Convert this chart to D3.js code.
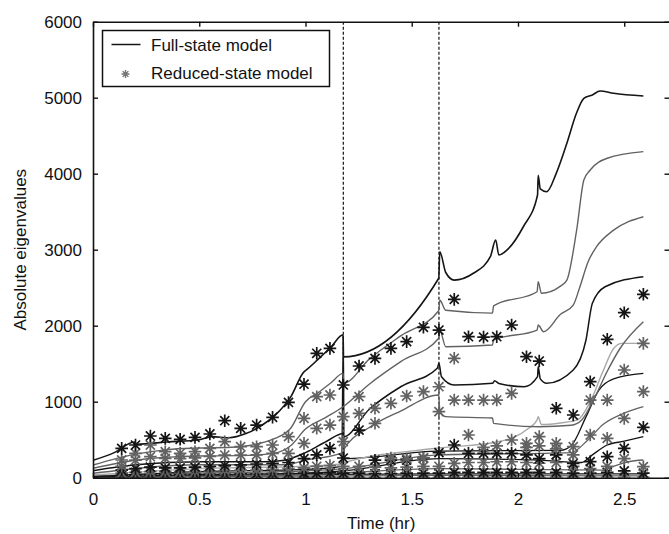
<!DOCTYPE html>
<html>
<head>
<meta charset="utf-8">
<script src="https://cdn.jsdelivr.net/npm/d3@7"></script>
<style>
  html, body { margin: 0; padding: 0; background: #fff; }
  svg { display: block; }
  text { font-family: "Liberation Sans", Arial, Helvetica, sans-serif; fill: #111; }
</style>
</head>
<body>
<svg id="chart" width="669" height="534"></svg>
<script>
// ---------------- DATA ----------------
const xTicks = [0, 0.5, 1, 1.5, 2, 2.5];
const yTicks = [0, 1000, 2000, 3000, 4000, 5000, 6000];
const switchTimes = [1.178, 1.628];

// Full-state model eigenvalue curves: [time (hr), |eigenvalue|]
const lineA = [[0,230],[0.1,330],[0.195,470],[0.205,440],[0.35,470],[0.5,500],[0.56,540],[0.64,525],[0.72,580],[0.8,700],[0.86,830],[0.93,1060],[0.995,1400],[1.0,1410],[1.06,1560],[1.12,1720],[1.177,1880],[1.179,1590],[1.627,2624],[1.632,2974],[1.66,2700],[1.70,2600],[1.79,2690],[1.87,2908],[1.895,3128],[1.91,2930],[1.95,3000],[2.025,3302],[2.092,3720],[2.095,3980],[2.105,3800],[2.135,3763],[2.18,4005],[2.23,4400],[2.275,4795],[2.31,4992],[2.35,5036],[2.386,5088],[2.45,5058],[2.59,5022]];
const lineB = [[0,167],[0.2,310],[0.35,370],[0.5,390],[0.65,400],[0.75,430],[0.85,510],[0.93,650],[1.0,1000],[1.06,1120],[1.12,1250],[1.177,1373],[1.179,1242],[1.3,1560],[1.45,1870],[1.627,2197],[1.632,2334],[1.66,2203],[1.88,2166],[1.885,2260],[2.09,2447],[2.095,2580],[2.11,2426],[2.2,2520],[2.23,2600],[2.276,3257],[2.31,3917],[2.34,4049],[2.42,4203],[2.59,4290]];
const lineC = [[0,124],[0.2,230],[0.5,285],[0.7,290],[0.85,320],[0.93,420],[1.0,640],[1.1,800],[1.177,934],[1.3,1230],[1.45,1530],[1.627,1834],[1.632,1941],[1.66,1724],[1.88,1746],[1.885,1812],[2.09,1943],[2.095,2009],[2.12,1921],[2.2,2150],[2.26,2272],[2.29,2500],[2.33,2842],[2.37,3040],[2.45,3257],[2.59,3434]];
const lineD = [[0,92],[0.2,170],[0.5,211],[0.8,210],[0.9,230],[1.0,330],[1.1,480],[1.177,583],[1.179,540],[1.3,900],[1.45,1200],[1.62,1440],[1.628,1505],[1.64,1329],[1.70,1220],[1.88,1242],[1.89,1275],[1.91,1240],[2.03,1197],[2.092,1329],[2.095,1460],[2.105,1300],[2.135,1242],[2.26,1417],[2.32,1812],[2.35,2295],[2.41,2513],[2.59,2645]];
const lineE = [[0,58],[0.5,170],[0.9,170],[1.0,230],[1.177,330],[1.179,364],[1.3,660],[1.45,880],[1.627,1088],[1.632,880],[1.66,803],[1.88,785],[1.885,715],[2.1,671],[2.25,690],[2.3,760],[2.36,1050],[2.42,1400],[2.48,1700],[2.59,2053]];
const lineF = [[0,36],[0.5,120],[1.0,150],[1.17,180],[1.185,200],[1.627,390],[1.9,470],[2.05,650],[2.09,760],[2.095,803],[2.11,700],[2.2,720],[2.28,760],[2.34,1000],[2.40,1400],[2.45,1700],[2.49,1768],[2.59,1768]];
const lineG = [[0,13],[0.5,80],[1.0,110],[1.17,150],[1.178,1870],[1.182,250],[1.628,350],[2.2,360],[2.25,420],[2.32,800],[2.38,1150],[2.45,1300],[2.59,1373]];
const lineH = [[0,25],[0.5,60],[1.0,90],[1.178,120],[1.628,300],[2.25,330],[2.33,500],[2.4,700],[2.5,850],[2.59,934]];
const lineI = [[0,8],[0.5,40],[1.0,60],[1.178,90],[1.628,250],[2.1,230],[2.3,200],[2.35,300],[2.42,430],[2.5,480],[2.59,540]];
const lineJ = [[0,5],[1.0,40],[1.628,120],[2.4,100],[2.45,150],[2.52,210],[2.59,233]];
const lineK = [[0,2],[1.628,50],[2.59,50]];
const lineL = [[0,15],[1.0,20],[1.628,30],[2.59,25]];

// Reduced-state model sample times and values
const starTimes = [0.135,0.20,0.27,0.34,0.41,0.48,0.55,0.62,0.695,0.77,0.845,0.92,0.993,1.053,1.115,1.178,1.252,1.327,1.402,1.476,1.555,1.628,1.70,1.767,1.838,1.90,1.97,2.04,2.10,2.18,2.26,2.34,2.42,2.50,2.59];
const stars1 = [386,430,549,518,505,531,575,750,650,693,795,990,1230,1637,1702,1220,1470,1570,1702,1790,1979,1943,2347,1855,1850,1855,2009,1592,1535,913,825,1263,1821,2171,2413];
const stars2 = [233,321,430,342,321,342,386,474,408,408,430,540,781,1066,1088,803,1066,913,979,1075,1132,1197,1571,1022,1022,1022,1110,452,540,452,408,1022,1022,1417,1768];
const stars3 = [150,230,276,255,250,260,280,298,298,300,321,321,452,650,693,474,847,716,260,250,260,869,1022,562,400,420,496,400,420,380,300,562,518,781,1132];
const stars4 = [100,120,140,130,130,140,150,160,170,180,190,200,250,300,386,259,627,230,230,233,259,330,430,321,321,321,321,300,250,300,189,211,276,386,663];
const stars5 = [60,70,80,80,80,85,90,95,100,100,110,120,130,150,160,150,150,140,130,140,150,150,189,200,200,210,210,200,190,200,150,120,150,250,145];
const stars6 = [30,35,35,40,40,40,45,45,50,50,55,55,60,60,65,60,60,55,55,60,60,60,70,70,70,70,70,70,70,70,60,60,70,90,60];
const stars7 = [5,5,5,5,5,5,5,5,5,5,5,5,5,5,5,5,5,5,5,5,5,5,5,5,5,5,5,5,5,5,5,5,5,5,5];

// ---------------- CHART ----------------
const svg = d3.select("#chart");
const pLeft = 93, pRight = 669.5, pTop = 21.7, pBottom = 477.7;
const x = d3.scaleLinear().domain([0, 2.713]).range([pLeft, pRight]);
const y = d3.scaleLinear().domain([0, 6000]).range([pBottom, pTop]);

const DARK = "#151515", GRAY = "#626262", LIGHT = "#a8a8a8";

svg.append("clipPath").attr("id", "plot").append("rect")
  .attr("x", pLeft).attr("y", pTop).attr("width", pRight - pLeft).attr("height", pBottom - pTop);

const plot = svg.append("g").attr("clip-path", "url(#plot)");

// dashed switching lines
plot.selectAll("line.switch").data(switchTimes).enter().append("line")
  .attr("class", "switch")
  .attr("x1", d => x(d)).attr("x2", d => x(d))
  .attr("y1", pTop).attr("y2", pBottom)
  .attr("stroke", "#111").attr("stroke-width", 1.2).attr("stroke-dasharray", "3,2");

const lineGen = d3.line().x(d => x(d[0])).y(d => y(d[1])).curve(d3.curveMonotoneX);
const lines = [
  {d: lineL, c: GRAY, w: 1.3}, {d: lineK, c: DARK, w: 1.3},
  {d: lineJ, c: GRAY, w: 1.3}, {d: lineI, c: DARK, w: 1.3},
  {d: lineH, c: GRAY, w: 1.3}, {d: lineG, c: DARK, w: 1.3},
  {d: lineF, c: LIGHT, w: 1.4}, {d: lineE, c: GRAY, w: 1.4},
  {d: lineD, c: DARK, w: 1.5}, {d: lineC, c: GRAY, w: 1.4},
  {d: lineB, c: GRAY, w: 1.4}, {d: lineA, c: DARK, w: 1.6}
];
plot.selectAll("path.curve").data(lines).enter().append("path")
  .attr("class", "curve")
  .attr("d", s => lineGen(s.d))
  .attr("fill", "none").attr("stroke", s => s.c).attr("stroke-width", s => s.w)
  .attr("stroke-linejoin", "round");

// asterisk marker
function starPath(r) {
  const d = r * 0.72;
  return `M${-r},0L${r},0M0,${-r}L0,${r}M${-d},${-d}L${d},${d}M${-d},${d}L${d},${-d}`;
}
const starSeries = [
  {v: stars7, c: GRAY}, {v: stars6, c: DARK}, {v: stars5, c: GRAY},
  {v: stars4, c: DARK}, {v: stars3, c: GRAY}, {v: stars2, c: GRAY}, {v: stars1, c: DARK}
];
starSeries.forEach(s => {
  plot.append("g").selectAll("path").data(starTimes.map((t, i) => [t, s.v[i]]).filter(p => p[1] != null))
    .enter().append("path")
    .attr("transform", p => `translate(${x(p[0])},${y(p[1])})`)
    .attr("d", starPath(6.3))
    .attr("fill", "none").attr("stroke", s.c).attr("stroke-width", 1.7);
});

// axes (ticks inward)
const axisStyle = g => {
  g.selectAll(".domain").attr("stroke", "#111").attr("stroke-width", 1.6);
  g.selectAll(".tick line").attr("stroke", "#111").attr("stroke-width", 1.4);
  g.selectAll("text").attr("font-size", 17).attr("font-family", "Liberation Sans, Arial, sans-serif").attr("fill", "#111");
};
svg.append("g").attr("transform", `translate(0,${pBottom})`)
  .call(d3.axisBottom(x).tickValues(xTicks).tickSize(-5).tickSizeOuter(0).tickPadding(15).tickFormat(d3.format("~g")))
  .call(axisStyle);
svg.append("g").attr("transform", `translate(0,${pTop})`)
  .call(d3.axisTop(x).tickValues(xTicks).tickSize(-5).tickSizeOuter(0).tickFormat(""))
  .call(axisStyle);
svg.append("g").attr("transform", `translate(${pLeft},0)`)
  .call(d3.axisLeft(y).tickValues(yTicks).tickSize(-5).tickSizeOuter(0).tickPadding(11).tickFormat(d3.format("d")))
  .call(axisStyle);
svg.append("g").attr("transform", `translate(${pRight},0)`)
  .call(d3.axisRight(y).tickValues(yTicks).tickSize(-5).tickSizeOuter(0).tickFormat(""))
  .call(axisStyle);

// axis titles
svg.append("text").attr("x", (pLeft + pRight) / 2).attr("y", 529)
  .attr("text-anchor", "middle").attr("font-size", 17).text("Time (hr)");
svg.append("text").attr("transform", `translate(26,${(pTop + pBottom) / 2}) rotate(-90)`)
  .attr("text-anchor", "middle").attr("font-size", 17).text("Absolute eigenvalues");

// legend
const lg = svg.append("g");
lg.append("rect").attr("x", 102.5).attr("y", 30.5).attr("width", 227).attr("height", 56)
  .attr("fill", "#fff").attr("stroke", "#111").attr("stroke-width", 1.5);
lg.append("line").attr("x1", 111.5).attr("x2", 140.5).attr("y1", 44.5).attr("y2", 44.5)
  .attr("stroke", DARK).attr("stroke-width", 1.5);
lg.append("path").attr("transform", "translate(125.5,74)").attr("d", starPath(4))
  .attr("fill", "none").attr("stroke", "#777").attr("stroke-width", 1.4);
lg.append("text").attr("x", 151).attr("y", 51).attr("font-size", 17).text("Full-state model");
lg.append("text").attr("x", 151).attr("y", 78.5).attr("font-size", 17).text("Reduced-state model");
</script>
</body>
</html>
